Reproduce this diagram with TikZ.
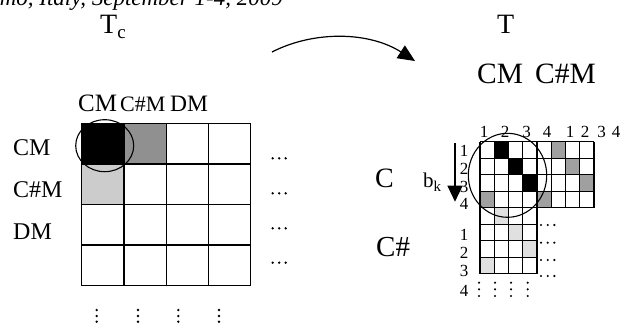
\documentclass[tikz,border=0pt]{standalone}
\usepackage{fontspec}
\setmainfont{Liberation Serif}
\usetikzlibrary{arrows.meta}
\definecolor{dkgray}{HTML}{909090}
\definecolor{ltgray}{HTML}{CCCCCC}
\definecolor{rgray}{HTML}{A0A0A0}
\definecolor{rlight}{HTML}{E0E0E0}
\tikzset{
  lbl/.style={inner sep=0pt, anchor=base west, font=\fontsize{24}{26}\selectfont},
  big/.style={inner sep=0pt, anchor=base west, font=\fontsize{28}{30}\selectfont},
  num/.style={inner sep=0pt, anchor=base, font=\fontsize{17}{19}\selectfont},
  gridline/.style={line width=1.3pt},
  ring/.style={line width=1.1pt},
  dotmark/.style={fill=black},
}
\begin{document}
\begin{tikzpicture}[x=1pt,y=-1pt]
\clip (0,0) rectangle (626,327);
\fill[white] (0,0) rectangle (626,327);
% header (clipped)
\node[inner sep=0pt, anchor=base east, font=\fontsize{23}{25}\selectfont\itshape] (hdr) at (283,5) {Como, Italy, September 1-4, 2009};
% titles
\node[big] (Tc) at (100,33) {T\raisebox{-0.2em}{\fontsize{19}{20}\selectfont c}};
\node[big] (T) at (497,33) {T};
\node[big, font=\fontsize{29.5}{31}\selectfont] (cmr) at (477,83) {CM};
\node[big, font=\fontsize{29.5}{31}\selectfont] (csmr) at (535,83) {C\#M};
% left grid fills
\fill[black] (81.7,123.3) rectangle (124.0,164.0);
\fill[dkgray] (124.0,123.3) rectangle (166.3,164.0);
\fill[ltgray] (81.7,164.0) rectangle (124.0,204.6);
\foreach \i in {0,...,4} {
  \draw[gridline] (81.7+42.25*\i,123.3) -- (81.7+42.25*\i,285.7);
  \draw[gridline] (81.7,123.3+40.6*\i) -- (250.7,123.3+40.6*\i);
}
\draw[ring] (104.7,145.7) ellipse [x radius=29, y radius=26];
% left labels
\node[lbl, font=\fontsize{25}{27}\selectfont] (c1) at (78,111) {CM};
\node[lbl, font=\fontsize{22}{24}\selectfont] (c2) at (120,111) {C\#M};
\node[lbl, font=\fontsize{23.5}{25}\selectfont] (c3) at (170,111) {DM};
\node[lbl] (r1) at (13,155) {CM};
\node[lbl] (r2) at (13,197.7) {C\#M};
\node[lbl] (r3) at (13,239.3) {DM};
% left dots
\foreach \y in {158.3,193.3,228.3,262.7}
  \foreach \x in {272.7,279.2,285.7}
    \fill[dotmark] (\x,\y) circle (1.3);
\foreach \x in {96.7,138,178.3,219}
  \foreach \y in {310,316,321.7}
    \fill[dotmark] (\x,\y) circle (1.3);
% arrow
\coordinate (a0) at (272,52);
\coordinate (a1) at (415,61);
\draw[line width=1.2pt, -{Triangle[length=17pt,width=15pt]}] (a0) .. controls (315,30) and (370,32) .. (a1);
% right grid fills
\def\cw{14.25}\def\rh{16.5}
\foreach \c/\r in {2/1,3/2,4/3}
  \fill[black] (480+\cw*\c-\cw,141.7+\rh*\r-\rh) rectangle ++(\cw,\rh);
\foreach \c/\r in {6/1,7/2,8/3,1/4,5/4}
  \fill[rgray] (480+\cw*\c-\cw,141.7+\rh*\r-\rh) rectangle ++(\cw,\rh);
\foreach \c/\r in {2/5,3/6,4/7,1/8}
  \fill[rlight] (480+\cw*\c-\cw,141.7+\rh*\r-\rh) rectangle ++(\cw,\rh);
\foreach \i in {0,...,8}
  \draw[gridline] (480+\cw*\i,141.7) -- (480+\cw*\i,207.7);
\foreach \i in {0,...,4}
  \draw[gridline] (480,141.7+\rh*\i) -- (594,141.7+\rh*\i);
\foreach \i in {0,...,4}
  \draw[gridline] (480+\cw*\i,207.7) -- (480+\cw*\i,274);
\foreach \i in {1,...,4}
  \draw[gridline] (480,207.7+\rh*\i) -- (537,207.7+\rh*\i);
\draw[ring] (507.5,175.3) ellipse [x radius=39.2, y radius=42];
% right labels
\node[inner sep=0pt, anchor=base west, font=\fontsize{28}{30}\selectfont] (C) at (375,187.3) {C};
\node[inner sep=0pt, anchor=base west, font=\fontsize{29}{30}\selectfont] (Cs) at (376,256.7) {C\#};
\node[inner sep=0pt, anchor=base west, font=\fontsize{21}{23}\selectfont] (bk) at (423,187.3) {b\raisebox{-0.2em}{\fontsize{15}{16}\selectfont k}};
\coordinate (v0) at (455,143.3);
\coordinate (v1) at (455,201.7);
\draw[line width=1.2pt, -{Triangle[length=16pt,width=15pt]}] (v0) -- (v1);
\foreach \n/\x in {1/484,2/505,3/526.7,4/547,5/570,6/585,7/601.7,8/616} {
  \pgfmathtruncatemacro\lab{mod(\n-1,4)+1}
  \node[num] (col\n) at (\x,137.3) {\lab};
}
\foreach \n/\y in {1/156.7,2/174,3/192.7,4/209.3}
  \node[num] (rowa\n) at (464,\y) {\n};
\foreach \n/\y in {1/240.7,2/258.3,3/276,4/296.7}
  \node[num] (rowb\n) at (464,\y) {\n};
% right dots
\foreach \y in {225,242.7,260,276}
  \foreach \x in {541,547.7,554.3}
    \fill[dotmark] (\x,\y) circle (1.2);
\foreach \x in {479,495,511,527.7}
  \foreach \y in {282.7,289.3,296}
    \fill[dotmark] (\x,\y) circle (1.2);
\end{tikzpicture}
\end{document}
